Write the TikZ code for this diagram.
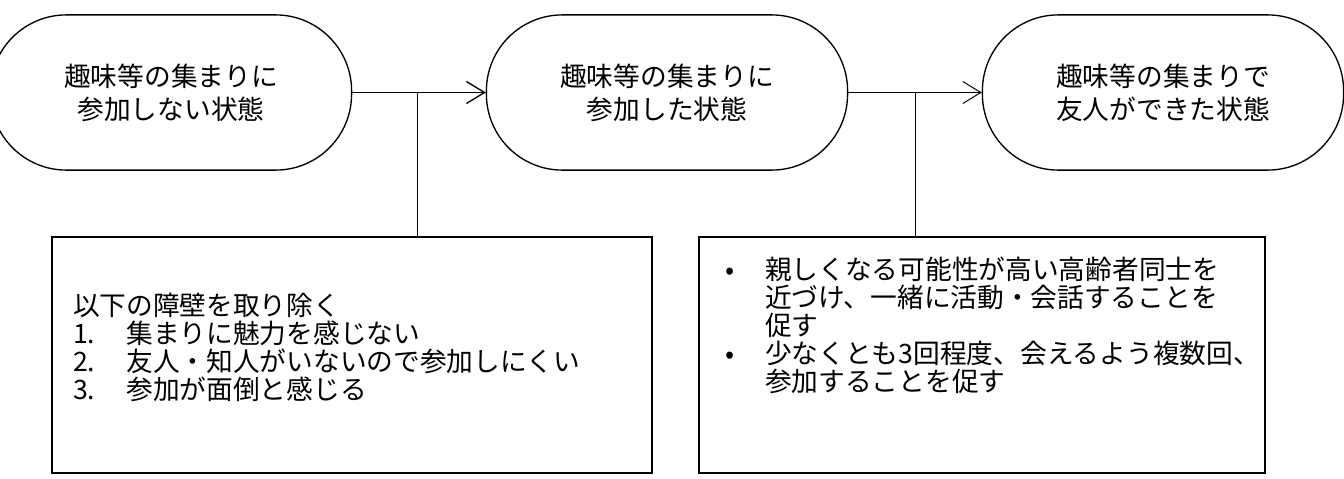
\documentclass[tikz,border=0pt]{standalone}
\usepackage{fontspec}
\setmainfont{Noto Sans CJK JP}
\usetikzlibrary{arrows.meta,calc,positioning}

\begin{document}
\begin{tikzpicture}[node distance=12.4cm, auto,
    stage/.style={rectangle, draw, line width=0.95pt, minimum width=9.03cm,
        minimum height=3.88cm, rounded corners=1.9cm, align=center,
        font=\fontsize{19}{23.5}\selectfont},
    note/.style={rectangle, draw, line width=1.1pt, minimum height=5.9cm,
        inner ysep=0pt, font=\fontsize{19}{20}\selectfont},
    line/.style={draw, line width=0.95pt, -{Straight Barb[length=0.45cm, width=0.55cm]}}
    ]
    \useasboundingbox (0,0) rectangle (33.6,-11.95);

    % States
    \node [stage] (none) at (4.275,-2.3125) {趣味等の集まりに\\参加しない状態};
    \node [stage, right of=none] (joined) {趣味等の集まりに\\参加した状態};
    \node [stage, right of=joined] (friends) {趣味等の集まりで\\友人ができた状態};

    % Notes
    \node [note, inner xsep=0.525cm] (barriers) at (8.8,-8.875)
        {\parbox[c][3.1cm][t]{13.95cm}{以下の障壁を取り除く\\
         \makebox[2em][l]{1.}集まりに魅力を感じない\\
         \makebox[2em][l]{2.}友人・知人がいないので参加しにくい\\
         \makebox[2em][l]{3.}参加が面倒と感じる}};
    \node [note, inner xsep=0.65cm] (support) at (24.55,-8.875)
        {\parbox[c][4.92cm][t]{12.85cm}{\makebox[1.5em][l]{•}親しくなる可能性が高い高齢者同士を\\
         \hspace*{1.5em}近づけ、一緒に活動・会話することを\\
         \hspace*{1.5em}促す\\
         \makebox[1.5em][l]{•}少なくとも3回程度、会えるよう複数回、\\
         \hspace*{1.5em}参加することを促す}};

    % Paths
    \coordinate (j1) at ($(none.east)!0.49!(joined.west)$);
    \coordinate (j2) at ($(joined.east)!0.5!(friends.west)$);
    \draw[line] (none) -- (joined);
    \draw[line, line width=0.7pt] (joined) -- (friends);
    \draw[line width=0.95pt] (j1) -- (j1 |- barriers.north);
    \draw[line width=0.7pt] (j2) -- (j2 |- support.north);
\end{tikzpicture}
\end{document}
